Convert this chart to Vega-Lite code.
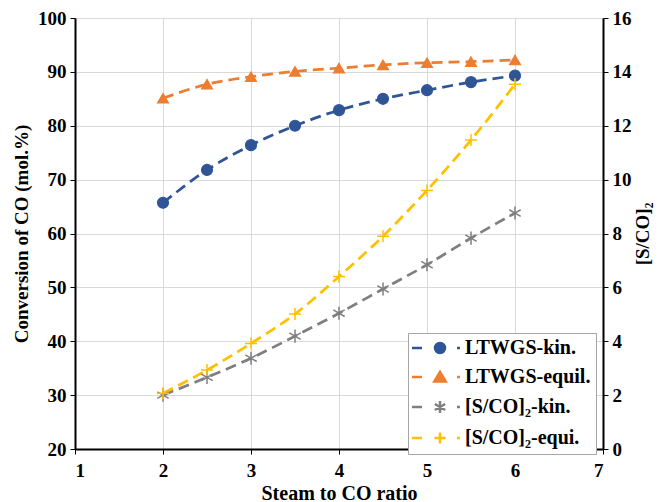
{
  "$schema": "https://vega.github.io/schema/vega-lite/v6.json",
  "autosize": {"type": "none"},
  "padding": {"left": 75, "top": 18, "right": 59, "bottom": 53},
  "width": 528,
  "height": 431,
  "background": "white",
  "config": {
    "view": {"stroke": null},
    "font": "Liberation Serif",
    "axis": {
      "labelFont": "Liberation Serif", "labelFontWeight": "bold", "labelFontSize": 19, "labelColor": "black",
      "titleFont": "Liberation Serif", "titleFontWeight": "bold", "titleFontSize": 19, "titleColor": "black",
      "domainColor": "black", "domainWidth": 2, "tickColor": "black", "tickWidth": 1, "tickSize": 5,
      "gridColor": "#D9D9D9", "gridWidth": 1
    },
    "legend": {
      "labelFont": "Liberation Serif", "labelFontWeight": "bold", "labelFontSize": 20, "labelColor": "black",
      "title": null, "orient": "none", "legendX": 333, "legendY": 315,
      "padding": 5, "rowPadding": 9, "symbolSize": 100, "symbolStrokeWidth": 2.5,
      "symbolOffset": 17, "labelOffset": 15,
      "strokeColor": "#A6A6A6", "fillColor": "white", "cornerRadius": 0
    }
  },
  "data": {"values": [
    {"s": 2, "series": "LTWGS-kin.", "v": 65.7},
    {"s": 2.5, "series": "LTWGS-kin.", "v": 71.8},
    {"s": 3, "series": "LTWGS-kin.", "v": 76.4},
    {"s": 3.5, "series": "LTWGS-kin.", "v": 80.0},
    {"s": 4, "series": "LTWGS-kin.", "v": 82.9},
    {"s": 4.5, "series": "LTWGS-kin.", "v": 85.0},
    {"s": 5, "series": "LTWGS-kin.", "v": 86.6},
    {"s": 5.5, "series": "LTWGS-kin.", "v": 88.1},
    {"s": 6, "series": "LTWGS-kin.", "v": 89.3},
    {"s": 2, "series": "LTWGS-equil.", "v": 85.1},
    {"s": 2.5, "series": "LTWGS-equil.", "v": 87.7},
    {"s": 3, "series": "LTWGS-equil.", "v": 89.1},
    {"s": 3.5, "series": "LTWGS-equil.", "v": 90.1},
    {"s": 4, "series": "LTWGS-equil.", "v": 90.7},
    {"s": 4.5, "series": "LTWGS-equil.", "v": 91.3},
    {"s": 5, "series": "LTWGS-equil.", "v": 91.7},
    {"s": 5.5, "series": "LTWGS-equil.", "v": 91.9},
    {"s": 6, "series": "LTWGS-equil.", "v": 92.2},
    {"s": 2, "series": "[S/CO]₂-kin.", "v": 2.0},
    {"s": 2.5, "series": "[S/CO]₂-kin.", "v": 2.66},
    {"s": 3, "series": "[S/CO]₂-kin.", "v": 3.37},
    {"s": 3.5, "series": "[S/CO]₂-kin.", "v": 4.19},
    {"s": 4, "series": "[S/CO]₂-kin.", "v": 5.04},
    {"s": 4.5, "series": "[S/CO]₂-kin.", "v": 5.94},
    {"s": 5, "series": "[S/CO]₂-kin.", "v": 6.84},
    {"s": 5.5, "series": "[S/CO]₂-kin.", "v": 7.83},
    {"s": 6, "series": "[S/CO]₂-kin.", "v": 8.76},
    {"s": 2, "series": "[S/CO]₂-equi.", "v": 2.07},
    {"s": 2.5, "series": "[S/CO]₂-equi.", "v": 2.93},
    {"s": 3, "series": "[S/CO]₂-equi.", "v": 3.92},
    {"s": 3.5, "series": "[S/CO]₂-equi.", "v": 5.01},
    {"s": 4, "series": "[S/CO]₂-equi.", "v": 6.4},
    {"s": 4.5, "series": "[S/CO]₂-equi.", "v": 7.9},
    {"s": 5, "series": "[S/CO]₂-equi.", "v": 9.6},
    {"s": 5.5, "series": "[S/CO]₂-equi.", "v": 11.47},
    {"s": 6, "series": "[S/CO]₂-equi.", "v": 13.54}
  ]},
  "encoding": {
    "x": {"field": "s", "type": "quantitative",
      "scale": {"domain": [1, 7], "nice": false, "zero": false},
      "axis": {"title": "Steam to CO ratio", "titleFontSize": 20, "values": [1,2,3,4,5,6,7], "labelPadding": 7, "titlePadding": 3, "grid": true}},
    "stroke": {"field": "series", "type": "nominal",
      "scale": {"domain": ["LTWGS-kin.", "LTWGS-equil.", "[S/CO]₂-kin.", "[S/CO]₂-equi."],
                "range": ["#2F5597", "#ED7D31", "#7F7F7F", "#FFC000"]}},
    "fill": {"field": "series", "type": "nominal",
      "scale": {"domain": ["LTWGS-kin.", "LTWGS-equil.", "[S/CO]₂-kin.", "[S/CO]₂-equi."],
                "range": ["#2F5597", "#ED7D31", "#7F7F7F", "#FFC000"]}}
  },
  "layer": [
    {
      "transform": [{"filter": "indexof(datum.series, 'LTWGS') == 0"}],
      "encoding": {
        "y": {"field": "v", "type": "quantitative",
          "scale": {"domain": [20, 100], "nice": false, "zero": false},
          "axis": {"orient": "left", "title": "Conversion of CO (mol.%)", "values": [20,30,40,50,60,70,80,90,100], "grid": true, "labelPadding": 4, "titlePadding": 6}}
      },
      "layer": [
        {"mark": {"type": "line", "interpolate": "monotone", "strokeWidth": 2.75, "strokeDash": [11, 6]},
         "encoding": {"fill": {"value": null}}},
        {"transform": [{"filter": "datum.series === 'LTWGS-kin.'"}],
         "mark": {"type": "point", "filled": true, "size": 120, "strokeWidth": 1.2, "opacity": 1, "shape": "circle"}},
        {"transform": [{"filter": "datum.series === 'LTWGS-equil.'"}],
         "mark": {"type": "point", "filled": true, "size": 120, "strokeWidth": 1.2, "opacity": 1, "shape": "triangle-up"}}
      ]
    },
    {
      "transform": [{"filter": "indexof(datum.series, '[S/CO]') == 0"}],
      "encoding": {
        "y": {"field": "v", "type": "quantitative",
          "scale": {"domain": [0, 16], "nice": false},
          "axis": {"orient": "right", "title": "[S/CO]₂", "values": [0,2,4,6,8,10,12,14,16], "grid": false, "labelPadding": 4, "titlePadding": 21, "titleAngle": -90, "titleBaseline": "bottom"}}
      },
      "layer": [
        {"mark": {"type": "line", "interpolate": "monotone", "strokeWidth": 2.75, "strokeDash": [11, 6]},
         "encoding": {"fill": {"value": null}}},
        {"transform": [{"filter": "datum.series === '[S/CO]₂-kin.'"}],
         "mark": {"type": "point", "filled": true, "size": 120, "strokeWidth": 1.5, "opacity": 1, "shape": "M0,-1.2V1.2M-1.04,-0.6L1.04,0.6M-1.04,0.6L1.04,-0.6"}},
        {"transform": [{"filter": "datum.series === '[S/CO]₂-equi.'"}],
         "mark": {"type": "point", "filled": true, "size": 120, "strokeWidth": 1.5, "opacity": 1, "shape": "M-1.1,0H1.1M0,-1.1V1.1"}}
      ]
    },
    {
      "transform": [{"filter": "false"}],
      "mark": {"type": "point", "filled": true, "size": 100, "strokeWidth": 2.5, "opacity": 1},
      "encoding": {
        "shape": {"field": "series", "type": "nominal",
          "scale": {"domain": ["LTWGS-kin.", "LTWGS-equil.", "[S/CO]₂-kin.", "[S/CO]₂-equi."],
                    "range": [
                      "M-5.6,0H-3.6M-1,0A1,1 0 1,0 1,0A1,1 0 1,0 -1,0M3.4,0H4",
                      "M-5.6,0H-3.6M0,-1L-1.15,0.9L1.15,0.9ZM3.4,0H4",
                      "M-5.6,0H-3.6M0,-1.2V1.2M-1.04,-0.6L1.04,0.6M-1.04,0.6L1.04,-0.6M3.4,0H4",
                      "M-5.6,0H-3.6M-1.1,0H1.1M0,-1.1V1.1M3.4,0H4"]}}
      }
    }
  ],
  "resolve": {"scale": {"y": "independent"}}
}
